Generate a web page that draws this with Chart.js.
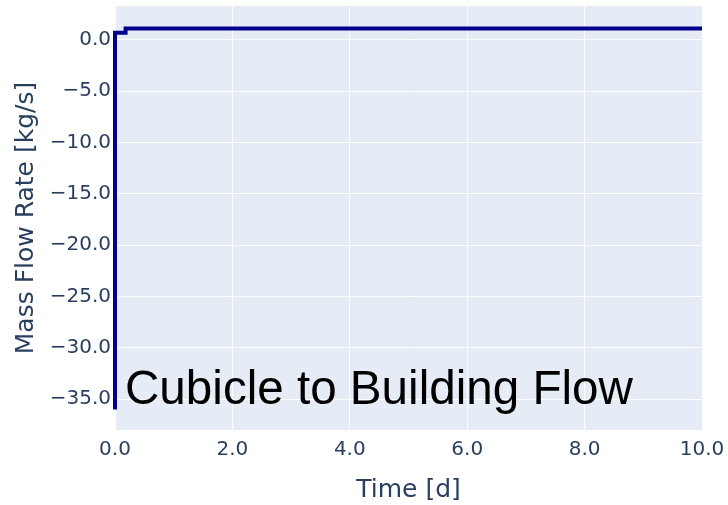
<!DOCTYPE html>
<html>
<head>
<meta charset="utf-8">
<script src="https://cdn.jsdelivr.net/npm/chart.js@4"></script>
<style>
  html, body { margin: 0; padding: 0; background: #fff; }
  #wrap { width: 728px; height: 505px; }
</style>
</head>
<body>
<div id="wrap"><canvas id="grafica" width="728" height="505"></canvas></div>
<script>
// datos
var tiempos = [0, 0, 0.18, 0.18, 10]
var flujo = [-36, 0.7, 0.7, 1.1, 1.1]
var ticks_x = [0, 2, 4, 6, 8, 10]
var ticks_y = [0, -5, -10, -15, -20, -25, -30, -35]

var puntos = []
for (var i = 0; i < tiempos.length; i++) {
    puntos.push({x: tiempos[i], y: flujo[i]})
}

const fuente = "'Liberation Sans', Arial, sans-serif"
const fuente_ejes = "'DejaVu Sans', sans-serif"
const color_texto = '#2a3f5f'

// fondo del area de la grafica y el texto grande
const fondo = {
    id: 'fondo',
    beforeDraw: function(chart) {
        var a = chart.chartArea
        var c = chart.ctx
        c.save()
        c.fillStyle = '#e5ecf6'
        c.fillRect(a.left, a.top, a.right - a.left, a.bottom - a.top)
        c.restore()
    },
    afterDraw: function(chart) {
        var c = chart.ctx
        c.save()
        c.fillStyle = '#000'
        c.font = "47.6px " + fuente
        c.textBaseline = 'alphabetic'
        c.fillText('Cubicle to Building Flow', 125, 404)
        c.restore()
    }
}

new Chart(document.getElementById('grafica'), {
    type: 'scatter',
    data: {
        datasets: [{
            data: puntos,
            showLine: true,
            borderColor: '#00008b',
            borderWidth: 4,
            pointRadius: 0,
            fill: false,
            clip: 2
        }]
    },
    plugins: [fondo],
    options: {
        responsive: false,
        animation: false,
        layout: { padding: { top: 6, right: 26, left: 0, bottom: 0 } },
        plugins: { legend: { display: false }, tooltip: { enabled: false } },
        scales: {
            x: {
                min: 0, max: 10,
                afterBuildTicks: function(s) { s.ticks = ticks_x.map(function(v) { return {value: v} }) },
                afterFit: function(s) {
                    s.height = 75
                    s.paddingLeft = 0
                    s.paddingRight = 0
                },
                grid: { color: '#fff', lineWidth: 1, drawTicks: false },
                border: { display: false },
                ticks: {
                    color: color_texto, padding: 8,
                    font: { family: fuente_ejes, size: 20 },
                    callback: function(v) { return v.toFixed(1) }
                },
                title: {
                    display: true, text: 'Time [d]', color: color_texto,
                    font: { family: fuente_ejes, size: 25 }, padding: { top: 1, bottom: 0 }
                }
            },
            y: {
                min: -38.0, max: 3.3,
                afterBuildTicks: function(s) { s.ticks = ticks_y.map(function(v) { return {value: v} }) },
                afterFit: function(s) {
                    s.width = 115
                    s.paddingTop = 0
                    s.paddingBottom = 0
                },
                grid: { color: '#fff', lineWidth: 1, drawTicks: false },
                border: { display: false },
                ticks: {
                    color: color_texto, padding: 4,
                    font: { family: fuente_ejes, size: 20 },
                    callback: function(v) { return v.toFixed(1).replace('-', '\u2212') }
                },
                title: {
                    display: true, text: 'Mass Flow Rate [kg/s]', color: color_texto,
                    font: { family: fuente_ejes, size: 25 }, padding: { top: 11, bottom: 0 }
                }
            }
        }
    }
});
</script>
</body>
</html>
